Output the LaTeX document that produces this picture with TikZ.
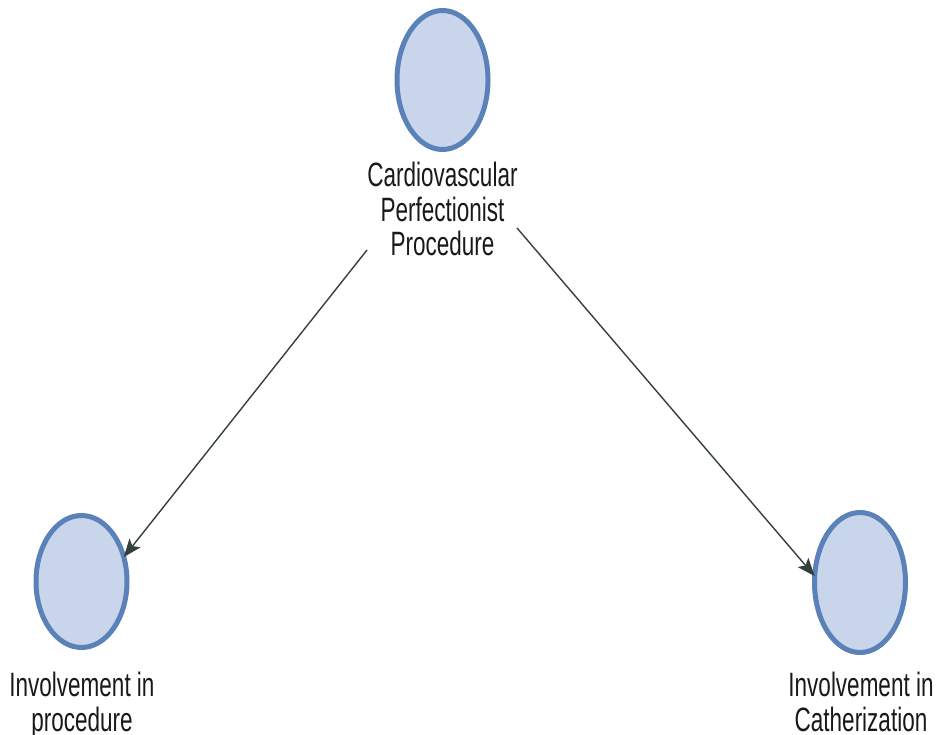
\documentclass[tikz,border=0pt]{standalone}
\usepackage{fontspec}
\setmainfont{Liberation Sans}
\usetikzlibrary{shapes.geometric,arrows.meta}
\definecolor{ringblue}{HTML}{5A82B8}
\definecolor{fillblue}{HTML}{C8D5EA}
\definecolor{linkgray}{HTML}{34403D}
\newcommand{\tallLabel}[1]{\scalebox{1}[1.5]{\fontsize{22.5}{22.5}\selectfont\begin{tabular}{@{}c@{}}#1\end{tabular}}}
\tikzset{
  construct/.style={ellipse, draw=ringblue, line width=5pt, fill=fillblue,
    inner sep=0pt, outer sep=0pt, minimum width=91pt, minimum height=139pt},
  caption/.style={inner sep=0pt, anchor=north, text=black!90},
  link/.style={draw=linkgray, line width=1.4pt,
    -{Stealth[length=18pt,width=14pt,inset=4pt]}}
}
\begin{document}
\begin{tikzpicture}[x=1pt,y=-1pt]
  \useasboundingbox (0,0) rectangle (936,735);
  % constructs
  \node[construct] (cpp) at (442.5,80) {};
  \node[construct, minimum height=132pt] (proc) at (81.5,581.5) {};
  \node[construct, minimum height=140pt] (cath) at (860,582.5) {};
  % their labels
  \node[caption] (cpplab) at (442.5,162) {\tallLabel{Cardiovascular\\Perfectionist\\Procedure}};
  \node[caption] (proclab) at (82,672) {\tallLabel{Involvement in\\procedure}};
  \node[caption] (cathlab) at (861,672) {\tallLabel{Involvement in\\Catherization}};
  % paths
  \coordinate (fromA) at (367,250);
  \coordinate (fromB) at (517,228);
  \draw[link] (fromA) -- (proc.30);
  \draw[link] (fromB) -- (cath.172);
\end{tikzpicture}
\end{document}
